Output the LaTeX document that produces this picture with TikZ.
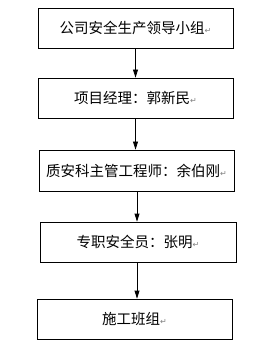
\documentclass[tikz,border=0pt]{standalone}
\usepackage{fontspec}
\setmainfont{Noto Sans CJK SC}
\newfontfamily\symfont{DejaVu Sans}
\usetikzlibrary{arrows.meta}

\newcommand{\parmark}{{\symfont\fontsize{8}{8}\selectfont\color{gray}↵}}

\begin{document}
\begin{tikzpicture}[x=1pt, y=1pt, >={Triangle[width=5pt,length=8pt]},
  box/.style={draw, line width=0.8pt, minimum width=195pt, minimum height=40pt,
    inner sep=0pt, font=\fontsize{14.5}{16}\selectfont},
  arr/.style={->, line width=0.8pt}]
  \useasboundingbox (0,0) rectangle (273,-352);
  % boxes, top to bottom
  \node[box] (lead) at (135.5,-28) {公司安全生产领导小组\parmark};
  \node[box] (pm) at (135.5,-98) {项目经理：郭新民\parmark};
  \node[box, minimum height=41pt] (qs) at (136.5,-170.5) {质安科主管工程师：余伯刚\parmark};
  \node[box, minimum width=196pt] (so) at (138,-242) {专职安全员：张明\parmark};
  \node[box] (crew) at (134.5,-319) {施工班组\parmark};
  % arrows
  \draw[arr] (lead.south) -- (lead.south |- pm.north);
  \draw[arr] (pm.south) -- (pm.south |- qs.north);
  \draw[arr] ([xshift=0.5pt]qs.south) -- ([xshift=0.5pt]qs.south |- so.north);
  \draw[arr] ([xshift=-1pt]so.south) -- ([xshift=-1pt]so.south |- crew.north);
\end{tikzpicture}
\end{document}
